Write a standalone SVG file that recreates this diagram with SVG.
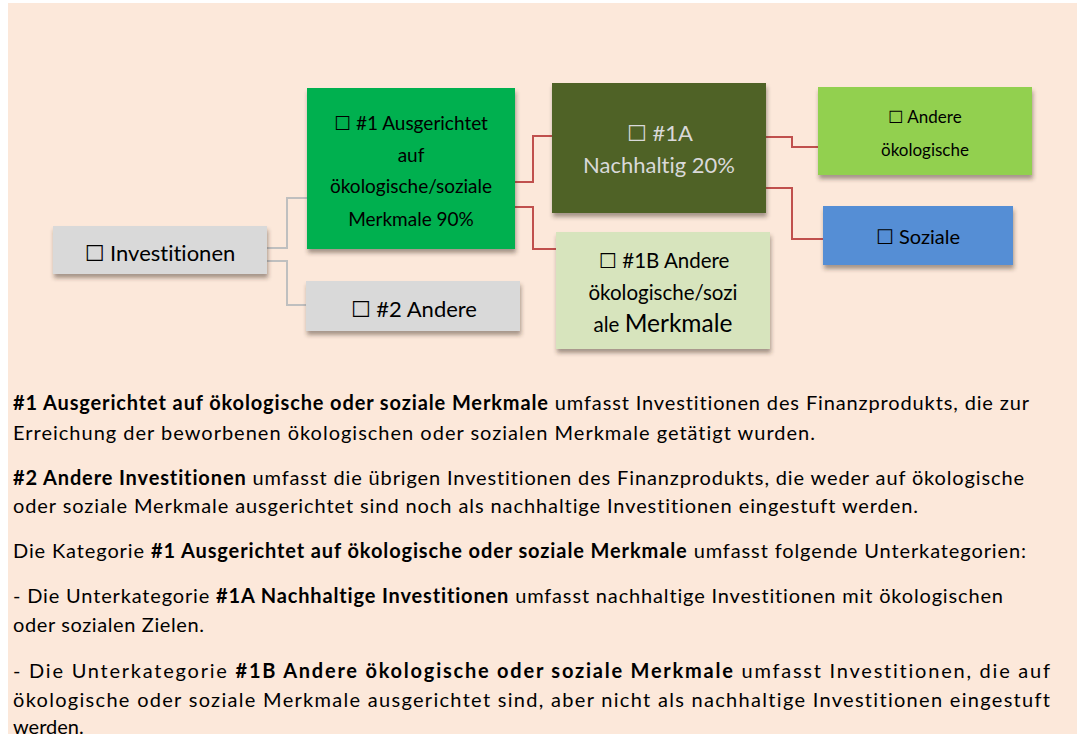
<svg xmlns="http://www.w3.org/2000/svg" width="1084" height="734" viewBox="0 0 1084 734">
<defs>
<filter id="sh" x="-10%" y="-10%" width="125%" height="140%">
<feDropShadow dx="1" dy="4" stdDeviation="2.2" flood-color="#3a2a20" flood-opacity="0.45"/>
</filter>
<style>
text{font-variant-ligatures:none;font-feature-settings:"liga" 0;}
.t{font-family:Lato,"Liberation Sans","DejaVu Sans",sans-serif;fill:#000;}
.n{font-family:Lato,"Liberation Sans","DejaVu Sans",sans-serif;text-anchor:middle;}
.b{font-weight:bold;}
.g{fill:none;stroke:#BFBFBF;stroke-width:2;}
.r{fill:none;stroke:#C0504D;stroke-width:2;}
</style>
</defs>
<rect x="0" y="0" width="1084" height="734" fill="#ffffff"/>
<rect x="8" y="3" width="1069" height="731" fill="#FCE8DA"/>

<g id="connectors">
<polyline class="g" points="267,248 287,248 287,198 307,198"/>
<polyline class="g" points="267,261 287,261 287,305 306,305"/>
<polyline class="r" points="515,182 533,182 533,136 552,136"/>
<polyline class="r" points="512,207 533,207 533,249 556,249"/>
<polyline class="r" points="766,137 792,137 792,147 818,147"/>
<polyline class="r" points="766,188 792,188 792,239 823,239"/>
</g>

<g id="node-investitionen">
<rect x="53" y="226" width="214" height="48" fill="#D9D9D9" filter="url(#sh)"/>
<text class="n" x="160" y="261" font-size="22">☐ Investitionen</text>
</g>

<g id="node-1">
<rect x="307" y="88" width="208" height="161" fill="#00B050" filter="url(#sh)"/>
<text class="n" x="411" y="130" font-size="19">☐ #1 Ausgerichtet</text>
<text class="n" x="411" y="162" font-size="19">auf</text>
<text class="n" x="411" y="193" font-size="19">ökologische/soziale</text>
<text class="n" x="411" y="226" font-size="19">Merkmale 90%</text>
</g>

<g id="node-2">
<rect x="306" y="281" width="214" height="50" fill="#D9D9D9" filter="url(#sh)"/>
<text class="n" x="414" y="317" font-size="22">☐ #2 Andere</text>
</g>

<g id="node-1a">
<rect x="552" y="83" width="214" height="130" fill="#4F6228" filter="url(#sh)"/>
<text class="n" x="660" y="141" font-size="22" fill="#D9D9D9">☐ #1A</text>
<text class="n" x="659" y="173" font-size="22" fill="#D9D9D9">Nachhaltig 20%</text>
</g>

<g id="node-1b">
<rect x="556" y="232" width="214" height="117" fill="#D7E4BD" filter="url(#sh)"/>
<text class="n" x="664" y="268" font-size="20.5">☐ #1B Andere</text>
<text class="n" x="663" y="300" font-size="20.5">ökologische/sozi</text>
<text class="n" x="663" y="332" font-size="20.5">ale <tspan font-size="24.5">Merkmale</tspan></text>
</g>

<g id="node-andere-oekologische">
<rect x="818" y="87" width="214" height="88" fill="#92D050" filter="url(#sh)"/>
<text class="n" x="925" y="123" font-size="17">☐ Andere</text>
<text class="n" x="925" y="156" font-size="17">ökologische</text>
</g>

<g id="node-soziale">
<rect x="823" y="206" width="190" height="59" fill="#558ED5" filter="url(#sh)"/>
<text class="n" x="918" y="244" font-size="20">☐ Soziale</text>
</g>

<g id="legend" class="t" font-size="20">
<text x="13" y="410" textLength="1016" lengthAdjust="spacing"><tspan class="b">#1 Ausgerichtet auf ökologische oder soziale Merkmale</tspan> umfasst Investitionen des Finanzprodukts, die zur</text>
<text x="13" y="440" textLength="802" lengthAdjust="spacing">Erreichung der beworbenen ökologischen oder sozialen Merkmale getätigt wurden.</text>
<text x="13" y="485" textLength="1011" lengthAdjust="spacing"><tspan class="b">#2 Andere Investitionen</tspan> umfasst die übrigen Investitionen des Finanzprodukts, die weder auf ökologische</text>
<text x="13" y="513" textLength="905" lengthAdjust="spacing">oder soziale Merkmale ausgerichtet sind noch als nachhaltige Investitionen eingestuft werden.</text>
<text x="13" y="558" textLength="1013" lengthAdjust="spacing">Die Kategorie <tspan class="b">#1 Ausgerichtet auf ökologische oder soziale Merkmale</tspan> umfasst folgende Unterkategorien:</text>
<text x="13" y="603" textLength="990" lengthAdjust="spacing">- Die Unterkategorie <tspan class="b">#1A Nachhaltige Investitionen</tspan> umfasst nachhaltige Investitionen mit ökologischen</text>
<text x="13" y="632" textLength="191" lengthAdjust="spacing">oder sozialen Zielen.</text>
<text x="13" y="678" textLength="1037" lengthAdjust="spacing">- Die Unterkategorie <tspan class="b">#1B Andere ökologische oder soziale Merkmale</tspan> umfasst Investitionen, die auf</text>
<text x="13" y="707" textLength="1037" lengthAdjust="spacing">ökologische oder soziale Merkmale ausgerichtet sind, aber nicht als nachhaltige Investitionen eingestuft</text>
<text x="13" y="734">werden.</text>
</g>
</svg>
